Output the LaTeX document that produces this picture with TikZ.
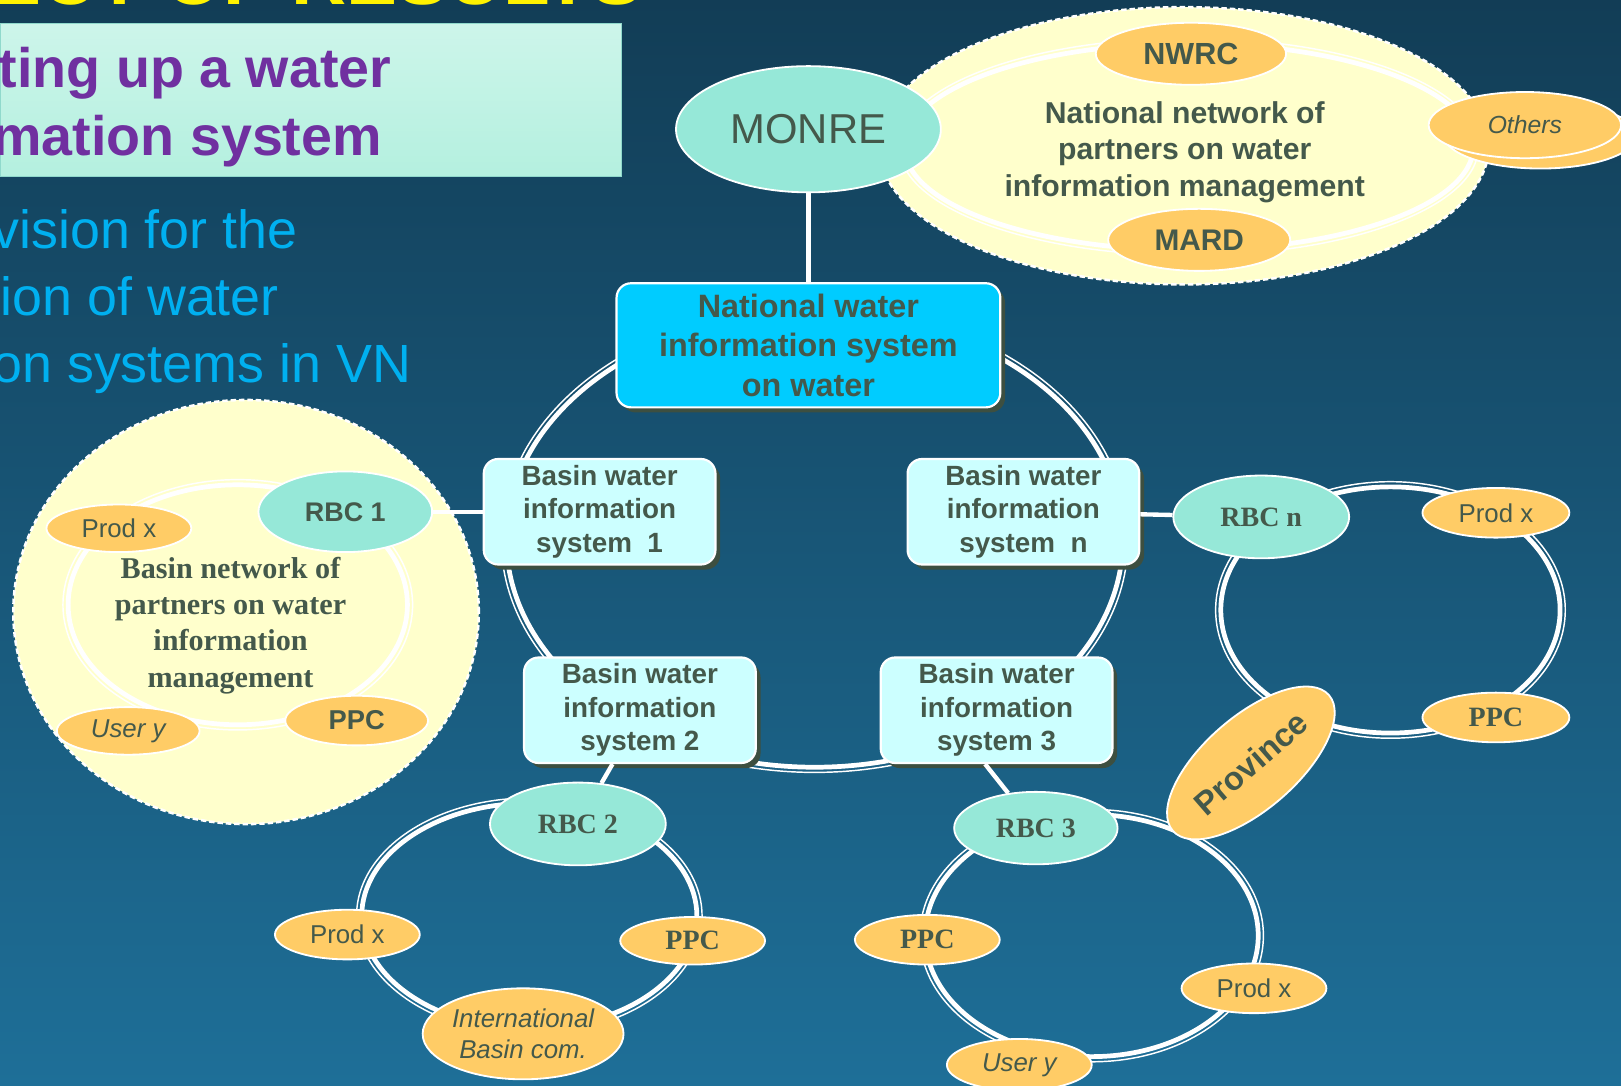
\documentclass[tikz,border=0pt]{standalone}
\usepackage{fontspec}
\setmainfont{Liberation Sans}
\newfontfamily\timesfont{Liberation Serif}
\usetikzlibrary{shapes.geometric,shadows}
\definecolor{bgtop}{HTML}{123D56}
\definecolor{bgbot}{HTML}{1E6F98}
\definecolor{mint}{HTML}{96E8D8}
\definecolor{peach}{HTML}{FFCC66}
\definecolor{cream}{HTML}{FFFFCC}
\definecolor{skyblue}{HTML}{00CCFF}
\definecolor{paleblue}{HTML}{CCFFFF}
\definecolor{inkgreen}{HTML}{44594B}
\definecolor{boxshade}{HTML}{3D4F40}
\definecolor{titlepurple}{HTML}{7030A0}
\definecolor{titleblue}{HTML}{00B0F0}
\definecolor{mintlight}{HTML}{CDF5EA}
\definecolor{mintdark}{HTML}{B4F0DF}
\begin{document}
\begin{tikzpicture}[x=0.01cm, y=-0.01cm,
  oval/.style={ellipse, draw=white, line width=0.5pt, inner sep=0pt, text=inkgreen},
  rbc/.style={oval, fill=mint},
  partner/.style={oval, fill=peach},
  sysbox/.style={rectangle, rounded corners=4pt, draw=white, line width=0.6pt, text=inkgreen, align=center, inner sep=0pt,
    drop shadow={shadow xshift=1.3pt, shadow yshift=-1.4pt, fill=boxshade, opacity=1}},
  ringline/.style={draw=white, line width=1.3pt},
  ringedge/.style={draw=white, line width=0.4pt},
  link/.style={draw=white, line width=1.2pt},
  fuzzy/.style={fill=cream, draw=white, line width=0.7pt, dash pattern=on 1.5pt off 0.8pt},
  lbl/.style={font=\fontsize{7.1pt}{8.5pt}\selectfont},
  lblit/.style={font=\itshape\fontsize{7.1pt}{8.5pt}\selectfont},
  lblserif/.style={font=\timesfont\bfseries\fontsize{7.7pt}{9pt}\selectfont}]
\useasboundingbox (0,0) rectangle (1568,1050);
\shade[top color=bgtop, bottom color=bgbot] (0,0) rectangle (1568,1050);

% heading and left text
\node[anchor=base east, text=yellow, inner sep=0pt, font=\bfseries\fontsize{21pt}{24pt}\selectfont] (headline) at (622,4) {ECT OF RESULTS};
\node[anchor=north west, minimum width=6cm, minimum height=1.48cm, top color=mintlight, bottom color=mintdark, draw=mintdark!80!teal, line width=0.4pt] (titlebox) at (0,22) {};
\node[anchor=base west, inner sep=0pt, text=titlepurple, font=\bfseries\fontsize{15.3pt}{18pt}\selectfont] (title1) at (-2,85) {ting up a water};
\node[anchor=base west, inner sep=0pt, text=titlepurple, font=\bfseries\fontsize{15.3pt}{18pt}\selectfont] (title2) at (-8,150) {mation system};
\node[anchor=base west, inner sep=0pt, text=titleblue, font=\fontsize{14.8pt}{18pt}\selectfont] (sub1) at (-8,240) {vision for the};
\node[anchor=base west, inner sep=0pt, text=titleblue, font=\fontsize{14.8pt}{18pt}\selectfont] (sub2) at (0,305) {ion of water};
\node[anchor=base west, inner sep=0pt, text=titleblue, font=\fontsize{14.8pt}{18pt}\selectfont] (sub3) at (-8,370) {on systems in VN};

% national network of partners
\node[ellipse, fuzzy, minimum width=5.9cm, minimum height=2.68cm, inner sep=0pt] (natnet) at (1145,141) {};
\draw[ringedge] (1150,142) ellipse [x radius=2.80cm, y radius=1.05cm];
\draw[ringline] (1150,142) ellipse [x radius=2.75cm, y radius=1.0cm];
\node[text=inkgreen, align=center, font=\bfseries\fontsize{8.3pt}{10pt}\selectfont] (natnettext) at (1146,147) {National network of\\partners on water\\information management};
\node[rbc, minimum width=2.56cm, minimum height=1.22cm, font=\fontsize{11.5pt}{12pt}\selectfont] (monre) at (782,125) {MONRE};
\node[partner, minimum width=1.84cm, minimum height=0.6cm, font=\bfseries\fontsize{8.4pt}{9pt}\selectfont] (nwrc) at (1152,52) {NWRC};
\node[partner, minimum width=1.76cm, minimum height=0.6cm, font=\bfseries\fontsize{8.2pt}{9pt}\selectfont] (mard) at (1160,232) {MARD};
\draw[fill=peach, draw=white, line width=0.5pt] (1490,131) ellipse [x radius=0.93cm, y radius=0.32cm];
\node[partner, minimum width=1.86cm, minimum height=0.64cm, font=\itshape\fontsize{6.8pt}{8pt}\selectfont] (others) at (1475,121) {Others};

% national and basin systems
\draw[ringedge] (788,522) ellipse [x radius=3.03cm, y radius=2.25cm];
\draw[ringline] (788,522) ellipse [x radius=2.98cm, y radius=2.2cm];
\node[sysbox, fill=skyblue, minimum width=3.71cm, minimum height=1.2cm, font=\bfseries\fontsize{8.9pt}{10.8pt}\selectfont] (natsys) at (782,334) {National water\\information system\\on water};
\node[sysbox, fill=paleblue, minimum width=2.24cm, minimum height=1.02cm, font=\bfseries\fontsize{7.65pt}{9.2pt}\selectfont] (bwis1) at (580,495) {Basin water\\information\\system\ \ 1};
\node[sysbox, fill=paleblue, minimum width=2.24cm, minimum height=1.02cm, font=\bfseries\fontsize{7.65pt}{9.2pt}\selectfont] (bwisn) at (990,495) {Basin water\\information\\system\ \ n};
\node[sysbox, fill=paleblue, minimum width=2.24cm, minimum height=1.02cm, font=\bfseries\fontsize{7.65pt}{9.2pt}\selectfont] (bwis2) at (619,687) {Basin water\\information\\system 2};
\node[sysbox, fill=paleblue, minimum width=2.24cm, minimum height=1.02cm, font=\bfseries\fontsize{7.65pt}{9.2pt}\selectfont] (bwis3) at (964,687) {Basin water\\information\\system 3};
\draw[link] (monre) -- (natsys);

% basin 1
\node[ellipse, fuzzy, minimum width=4.5cm, minimum height=4.1cm, inner sep=0pt] (basinnet) at (238,592) {};
\draw[ringedge] (230,585) ellipse [x radius=1.69cm, y radius=1.21cm];
\draw[ringline] (230,585) ellipse [x radius=1.64cm, y radius=1.16cm];
\node[text=inkgreen, align=center, font=\timesfont\bfseries\fontsize{8.3pt}{10pt}\selectfont] (basinnettext) at (223,605) {Basin network of\\partners on water\\information\\management};
\node[rbc, minimum width=1.68cm, minimum height=0.78cm, font=\bfseries\fontsize{7.4pt}{9pt}\selectfont] (rbc1) at (334,495) {RBC 1};
\node[partner, minimum width=1.4cm, minimum height=0.46cm, lbl] (prod1) at (115,511) {Prod x};
\node[partner, minimum width=1.38cm, minimum height=0.46cm, lblit] (user1) at (124,707) {User y};
\node[partner, minimum width=1.38cm, minimum height=0.48cm, font=\bfseries\fontsize{7.5pt}{9pt}\selectfont] (ppc1) at (345,697) {PPC};
\draw[link] (bwis1) -- (rbc1);

% basin 2
\draw[ringedge] (512,886) ellipse [x radius=1.67cm, y radius=1.14cm];
\draw[ringline] (512,886) ellipse [x radius=1.62cm, y radius=1.09cm];
\node[rbc, minimum width=1.7cm, minimum height=0.8cm, lblserif] (rbc2) at (559,797) {RBC 2};
\node[partner, minimum width=1.4cm, minimum height=0.48cm, lbl] (prod2) at (336,904) {Prod x};
\node[partner, minimum width=1.4cm, minimum height=0.46cm, lblserif] (ppc2) at (670,910) {PPC};
\node[partner, minimum width=1.8cm, minimum height=0.88cm, align=center, lblit] (intl2) at (506,1000) {International\\Basin com.};
\draw[link] (bwis2.243) -- (rbc2);

% basin 3
\draw[ringedge] (1056,905) ellipse [x radius=1.66cm, y radius=1.22cm];
\draw[ringline] (1056,905) ellipse [x radius=1.61cm, y radius=1.17cm];
\node[rbc, minimum width=1.58cm, minimum height=0.7cm, lblserif] (rbc3) at (1002,801) {RBC 3};
\node[partner, minimum width=1.4cm, minimum height=0.48cm, lblserif] (ppc3) at (897,909) {PPC};
\node[partner, minimum width=1.4cm, minimum height=0.48cm, lbl] (prod3) at (1213,956) {Prod x};
\node[partner, minimum width=1.4cm, minimum height=0.5cm, lblit] (user3) at (986,1030) {User y};
\draw[link] (bwis3.258) -- (rbc3);

% basin n
\draw[ringedge] (1345,590) ellipse [x radius=1.69cm, y radius=1.24cm];
\draw[ringline] (1345,590) ellipse [x radius=1.64cm, y radius=1.19cm];
\node[rbc, minimum width=1.7cm, minimum height=0.8cm, lblserif] (rbcn) at (1220,500) {RBC n};
\node[partner, minimum width=1.42cm, minimum height=0.48cm, lbl] (prodn) at (1447,496) {Prod x};
\node[partner, minimum width=1.42cm, minimum height=0.48cm, lblserif] (ppcn) at (1447,694) {PPC};
\draw[link] (bwisn) -- (rbcn);
\node[partner, rotate=41, minimum width=2.0cm, minimum height=0.9cm, font=\bfseries\fontsize{9pt}{10pt}\selectfont] (province) at (1210,738) {Province};
\end{tikzpicture}
\end{document}
